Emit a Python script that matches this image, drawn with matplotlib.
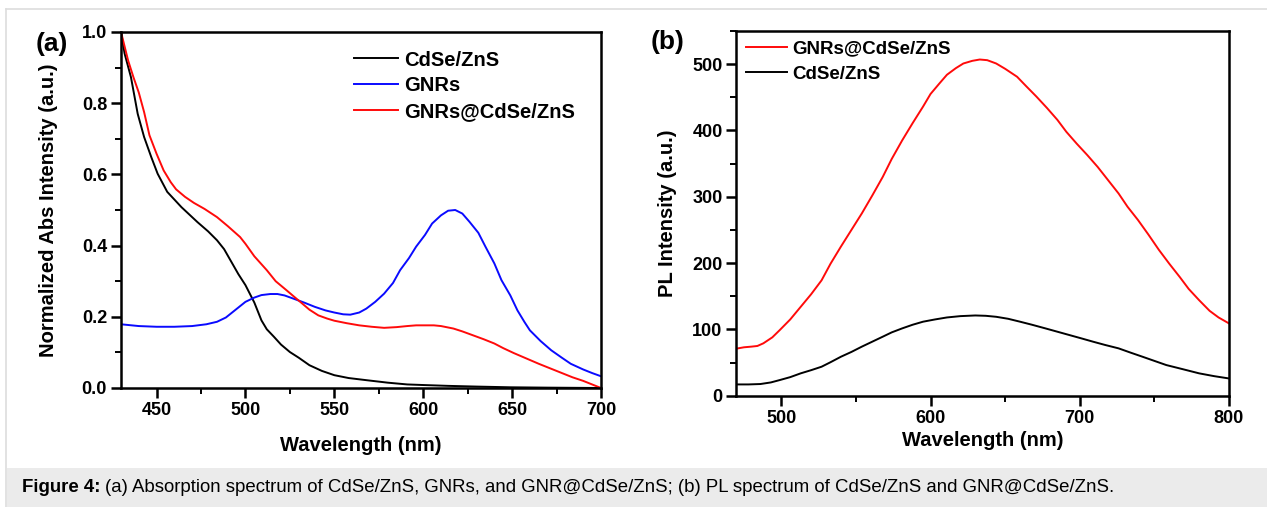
import matplotlib
matplotlib.use("Agg")
import matplotlib.pyplot as plt
from matplotlib.lines import Line2D
from matplotlib.patches import Rectangle
from matplotlib.ticker import MultipleLocator, FormatStrFormatter

plt.rcParams['font.family'] = ['Liberation Sans', 'DejaVu Sans']

# (a) absorption spectra
abs_cdse_x = [430, 432, 435.6, 439.4, 443, 447, 450.6, 456, 464, 473, 479, 484, 488,
              492, 496, 500, 505, 509, 512, 516, 520, 525, 530, 536, 543, 550, 558,
              568, 580, 591, 602, 614, 630, 649, 670, 700]
abs_cdse_y = [1.0, 0.94, 0.873, 0.77, 0.705, 0.649, 0.602, 0.551, 0.508, 0.466, 0.44,
              0.415, 0.39, 0.355, 0.32, 0.289, 0.24, 0.19, 0.165, 0.144, 0.122, 0.101,
              0.085, 0.064, 0.048, 0.036, 0.028, 0.022, 0.015, 0.010, 0.008, 0.006,
              0.004, 0.002, 0.001, 0.0]

abs_gnr_x = [430, 440, 450, 460, 470, 478, 484, 489, 493, 497, 500, 505, 509, 514,
             518, 522, 527, 533, 539, 545, 550, 555, 559, 564, 568, 573, 578, 583,
             587, 592, 596, 601, 605, 610, 614, 618, 622, 626, 631, 635, 640, 644,
             649, 653, 657, 660, 666, 672, 678, 683, 690, 695, 700]
abs_gnr_y = [0.179, 0.174, 0.172, 0.172, 0.174, 0.179, 0.186, 0.198, 0.214, 0.230, 0.242,
             0.254, 0.261, 0.264, 0.264, 0.260, 0.251, 0.240, 0.228, 0.218, 0.212, 0.207,
             0.206, 0.212, 0.223, 0.242, 0.265, 0.295, 0.331, 0.365, 0.397, 0.430, 0.462,
             0.485, 0.498, 0.500, 0.490, 0.467, 0.436, 0.397, 0.350, 0.303, 0.260, 0.218,
             0.185, 0.162, 0.132, 0.106, 0.085, 0.068, 0.052, 0.042, 0.033]

abs_hyb_x = [430, 434, 437, 440, 443, 446, 450, 454, 458, 461, 466, 471, 477, 484,
             490, 497, 500, 505, 512, 517, 523, 527, 532, 536, 541, 546, 550, 557, 564,
             571, 578, 585, 591, 596, 601, 606, 610, 617, 622, 628, 634, 640, 645,
             651, 658, 665, 672, 679, 684, 690, 695, 700]
abs_hyb_y = [1.0, 0.92, 0.873, 0.83, 0.775, 0.71, 0.658, 0.611, 0.578, 0.558, 0.537,
             0.52, 0.503, 0.48, 0.455, 0.424, 0.405, 0.37, 0.331, 0.30, 0.275, 0.258,
             0.237, 0.22, 0.204, 0.195, 0.189, 0.182, 0.176, 0.172, 0.169, 0.171, 0.174,
             0.176, 0.176, 0.176, 0.174, 0.167, 0.159, 0.148, 0.137, 0.125, 0.112, 0.098,
             0.083, 0.068, 0.054, 0.040, 0.030, 0.020, 0.010, 0.0]

# (b) PL spectra
pl_hyb_x = [470, 475, 480, 484, 488, 494, 499, 506, 513, 520, 527, 533, 540, 547,
            554, 561, 568, 574, 581, 588, 595, 600, 606, 611, 617, 622, 628, 633,
            638, 644, 650, 658, 664, 671, 678, 685, 691, 698, 705, 712, 719, 726,
            732, 739, 746, 753, 760, 767, 773, 780, 787, 793, 800]
pl_hyb_y = [71, 73, 74, 75, 79, 88, 99, 115, 134, 153, 174, 199, 225, 250, 275, 302,
            330, 357, 385, 411, 436, 455, 471, 484, 494, 501, 505, 507, 506, 501,
            493, 481, 467, 451, 434, 416, 398, 380, 363, 345, 325, 305, 285, 265,
            243, 220, 199, 179, 161, 144, 128, 118, 109]

pl_cdse_x = [470, 478, 486, 493, 499, 506, 513, 520, 527, 533, 540, 547, 554, 561,
             568, 574, 581, 588, 595, 603, 611, 620, 630, 637, 644, 652, 660, 668,
             677, 685, 693, 701, 709, 717, 726, 734, 742, 750, 758, 769, 780, 790, 800]
pl_cdse_y = [17, 17, 17.6, 20, 23.6, 28, 33.7, 38.5, 43.7, 50.5, 58.8, 66, 74, 81.5,
             89, 95.5, 101.5, 107, 111.6, 115, 118, 120, 121, 120.5, 119, 116, 111.6,
             107, 101.5, 96.5, 91.5, 86.5, 81.4, 76.5, 71.4, 65, 58.8, 52.5, 46.2,
             40, 33.7, 29.5, 26]

W, H = 1267, 507
fig = plt.figure(figsize=(W / 100, H / 100), dpi=100)

# page frame and caption band
fig.add_artist(Line2D([6 / W, 1], [1 - 9 / H, 1 - 9 / H], color='#dddddd', lw=1.2))
fig.add_artist(Line2D([6 / W, 6 / W], [0, 1 - 9 / H], color='#dddddd', lw=1.2))
fig.add_artist(Rectangle((7 / W, 0), 1, 1 - 468 / H, transform=fig.transFigure,
                         color='#ebebeb', lw=0))
fig.text(22 / W, 1 - 487 / H, "Figure 4:", fontsize=13.4, fontweight='bold',
         va='center', ha='left')
fig.text(105 / W, 1 - 487 / H,
         "(a) Absorption spectrum of CdSe/ZnS, GNRs, and GNR@CdSe/ZnS; "
         "(b) PL spectrum of CdSe/ZnS and GNR@CdSe/ZnS.",
         fontsize=13.4, va='center', ha='left')

ax1 = fig.add_axes([121 / W, 1 - 388 / H, 480 / W, 356 / H])
ax2 = fig.add_axes([736.5 / W, 1 - 395.7 / H, 492.5 / W, 364.7 / H])

lw = 1.4
ax1.plot(abs_cdse_x, abs_cdse_y, color='black', lw=lw, label='CdSe/ZnS')
ax1.plot(abs_gnr_x, abs_gnr_y, color='#0a0aff', lw=lw, label='GNRs')
ax1.plot(abs_hyb_x, abs_hyb_y, color='#ff0a0a', lw=lw, label='GNRs@CdSe/ZnS')
ax1.set_xlim(430, 700)
ax1.set_ylim(0, 1.0)
ax1.xaxis.set_major_locator(MultipleLocator(50))
ax1.xaxis.set_minor_locator(MultipleLocator(25))
ax1.yaxis.set_major_locator(MultipleLocator(0.2))
ax1.yaxis.set_minor_locator(MultipleLocator(0.1))
ax1.yaxis.set_major_formatter(FormatStrFormatter('%.1f'))
ax1.set_xlabel('Wavelength (nm)', fontsize=14.5, fontweight='bold', labelpad=12)
ax1.set_ylabel('Normalized Abs Intensity (a.u.)', fontsize=14.5, fontweight='bold',
               labelpad=17)

ax2.plot(pl_hyb_x, pl_hyb_y, color='#ff0a0a', lw=lw, label='GNRs@CdSe/ZnS')
ax2.plot(pl_cdse_x, pl_cdse_y, color='black', lw=lw, label='CdSe/ZnS')
ax2.set_xlim(470, 800)
ax2.set_ylim(0, 550)
ax2.xaxis.set_major_locator(MultipleLocator(100))
ax2.xaxis.set_minor_locator(MultipleLocator(50))
ax2.yaxis.set_major_locator(MultipleLocator(100))
ax2.yaxis.set_minor_locator(MultipleLocator(50))
ax2.set_xlabel('Wavelength (nm)', fontsize=14.5, fontweight='bold', labelpad=3)
ax2.set_ylabel('PL Intensity (a.u.)', fontsize=14.5, fontweight='bold', labelpad=11)

for ax in (ax1, ax2):
    for s in ax.spines.values():
        s.set_linewidth(1.8)
    ax.tick_params(which='major', direction='out', length=7, width=1.8,
                   labelsize=13, pad=3)
    ax.tick_params(which='minor', direction='out', length=4, width=1.4)
    for lab in ax.get_xticklabels() + ax.get_yticklabels():
        lab.set_fontweight('bold')

leg_kw = dict(frameon=False, handlelength=2.2, handletextpad=0.3,
              borderpad=0, borderaxespad=0, loc='upper left')
l1 = ax1.legend(bbox_to_anchor=(0.485, 0.948), fontsize=14.5, labelspacing=0.33, **leg_kw)
l2 = ax2.legend(bbox_to_anchor=(0.019, 0.974), fontsize=13.5, labelspacing=0.42, **leg_kw)
for leg in (l1, l2):
    for t in leg.get_texts():
        t.set_fontweight('bold')

fig.text(52 / W, 1 - 44 / H, '(a)', fontsize=19, fontweight='bold', ha='center', va='center')
fig.text(668 / W, 1 - 42 / H, '(b)', fontsize=19, fontweight='bold', ha='center', va='center')

fig.savefig('out.png', dpi=100)
